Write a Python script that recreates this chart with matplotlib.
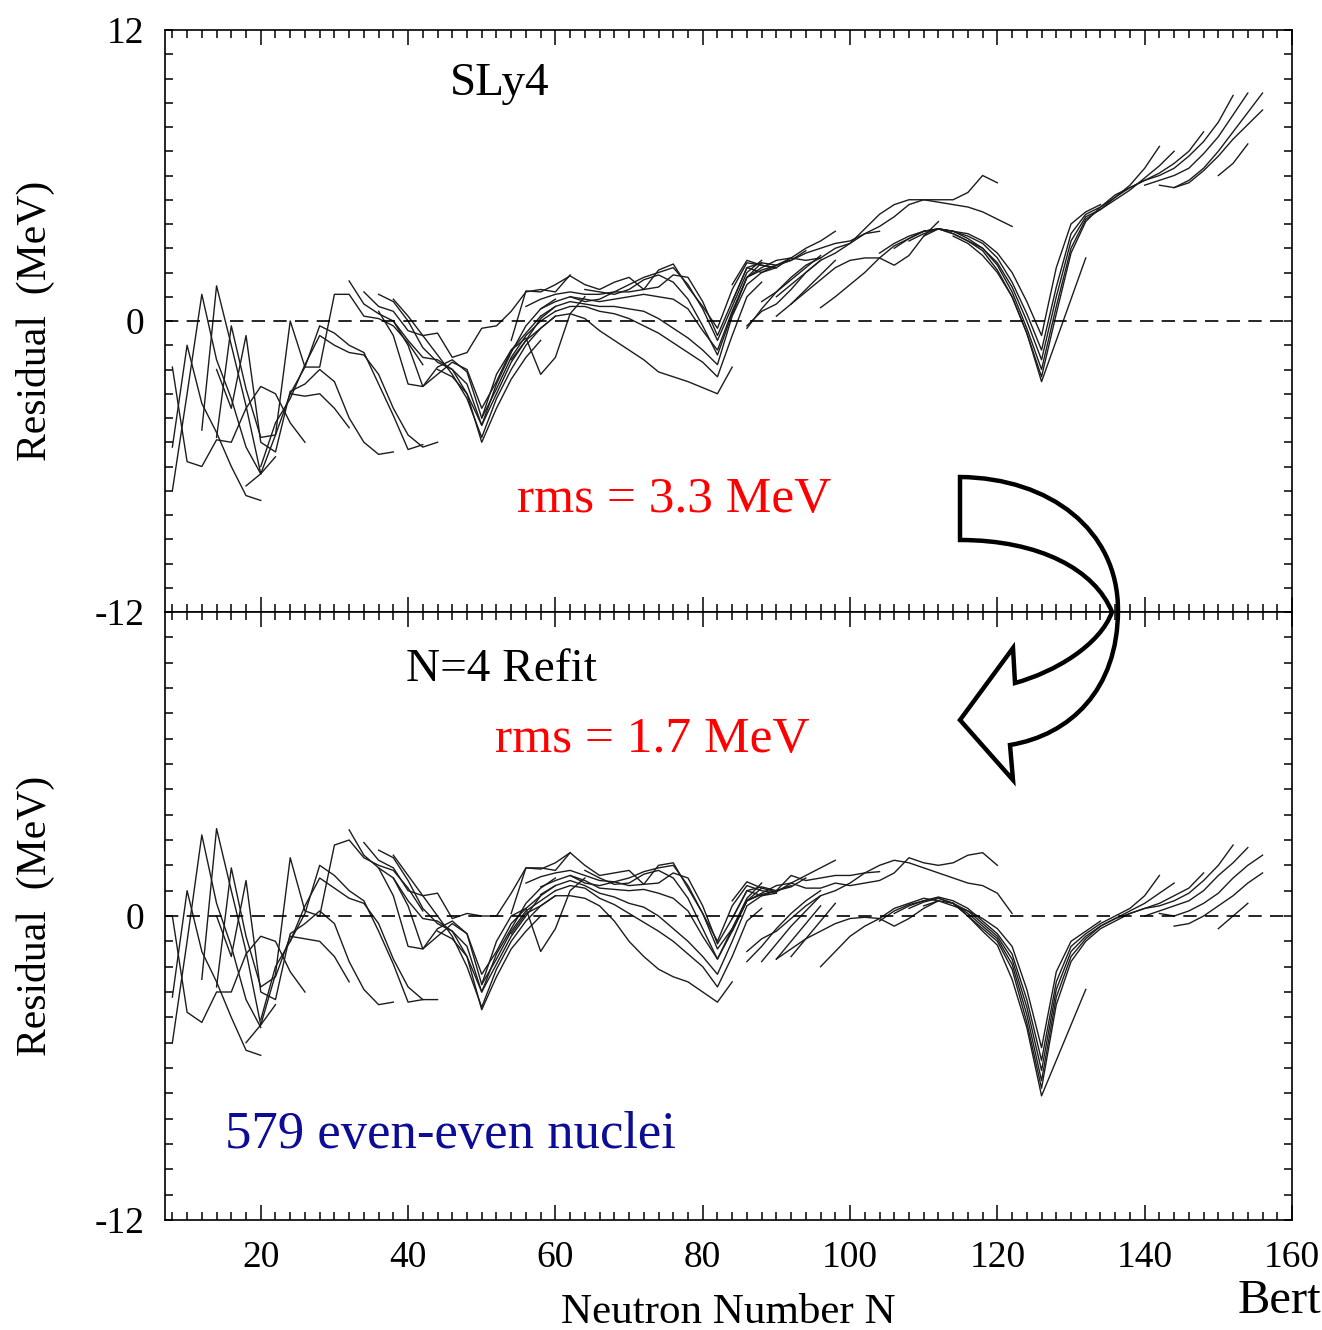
import matplotlib
matplotlib.use("Agg")
import matplotlib.pyplot as plt
from matplotlib.path import Path
from matplotlib.patches import PathPatch
from matplotlib.ticker import MultipleLocator

# isotopic chains: (first N, residual in MeV at N, N+2, N+4, ...)
# --- SLy4 (top panel) ---
sly4_light = [
    (8, [-7.0, -3.0, 1.1, -1.6, -3.2, -5.2, -6.3]),
    (8, [-5.2, -1.0, -3.4, -4.6, -6.0, -7.2, -7.4]),
    (8, [-1.9, -5.8, -6.0, -4.9, -5.0, -3.6, -2.7, -3.0, -4.2, -5.0]),
    (12, [-4.5, 1.45, -1.0, -3.5, -6.3, -5.6]),
    (14, [-4.8, -0.2, -2.8, -4.8, -4.7, -3.0, -3.1, -3.0, -3.6, -4.4]),
    (14, [-2.0, -3.6, -0.6, -5.0, -5.4, -2.9, -2.6, -2.0, -2.5, -4.0, -5.0, -5.5, -5.4]),
    (18, [-6.8, -6.3, -4.7, 0.0, -1.9, -1.9, 1.1, 1.1, 0.2, 0.1, -0.2, -0.9, -1.8]),
    (20, [-6.0, -4.2, -3.2, -1.8, -0.6, -1.0, -1.3, -1.4, -2.2, -3.6, -4.7, -5.2, -5.0]),
    (24, [-3.0, -1.9, -0.2, -0.5, -1.0, -1.3, -2.6, -3.9, -5.3, -5.1]),
]
sly4_mid = [
    (32, [1.65, 0.7, 0.3, 0.0, -0.8, -1.5, -1.6, -2.0, -3.0, -4.3, -2.6, -1.3, -0.2, 0.5, 0.9]),
    (34, [1.2, 0.6, 0.4, -0.4, -0.6, -0.5, -1.5, -1.3, -0.3, -0.2, 0.4, 1.2, 1.3, 1.2, 1.9]),
    (36, [1.1, 0.8, 0.0, -1.1, -1.7, -2.0, -2.6, -4.3, -3.0, -1.7, -0.8, 0.1, 0.6]),
    (36, [0.4, -0.6, -2.6, -2.7, -1.9, -1.6, -2.1, -4.0, -2.8, -1.5, -0.6, 0.0, 0.4]),
    (38, [0.9, 0.2, -0.6, -1.4, -2.2, -3.2, -4.8, -3.2, -2.0, -1.0, -0.3, 0.2]),
    (38, [0.0, -1.0, -2.7, -2.2, -1.7, -2.0, -3.6, -2.5, -1.2, -0.5, 0.2]),
    (44, [-2.0, -2.3, -3.0, -5.0, -3.6, -2.4, -1.5, -0.8]),
    (50, [-4.0, -2.2, -1.2, -0.7, -2.2, -1.5, 0.3, 1.0]),
]
sly4_n82 = [
    (54, [-0.8, 1.24, 1.2, 1.5, 1.86, 1.5, 1.3, 1.6, 1.8, 1.3, 2.1, 2.35, 1.4, 0.6, -0.3, 1.3, 2.4, 2.3, 2.2]),
    (56, [0.6, 0.9, 1.1, 1.2, 1.1, 1.1, 1.2, 1.2, 1.3, 1.4, 1.9, 1.8, 0.8, -0.6, 0.8, 2.2, 2.4, 2.3, 2.5, 2.9]),
    (58, [0.5, 0.8, 1.0, 0.9, 0.8, 0.9, 1.0, 1.1, 1.0, 0.9, 0.5, -0.4, -1.2, 0.4, 1.8, 2.1, 2.3, 2.6]),
    (58, [0.2, 0.6, 0.8, 0.7, 0.6, 0.6, 0.5, 0.4, 0.1, -0.3, -0.7, -1.2, -1.8, 0.2, 1.5, 2.0, 2.2]),
    (60, [0.4, 0.6, 0.6, 0.4, 0.3, 0.1, -0.2, -0.5, -0.9, -1.3, -1.7, -2.3, -0.6, 1.0, 1.6]),
    (54, [-1.6, -0.8, -0.3, 0.2, 0.3, 0.1, -0.4, -0.8, -1.2, -1.6, -2.1, -2.3, -2.5, -2.75, -3.0, -1.9]),
    (62, [1.0, 0.8, 0.9, 1.2, 1.5, 1.8, 2.0, 2.2, 1.5, 0.5, -0.8, 0.6, 2.0, 2.5]),
    (64, [1.3, 1.2, 1.1, 1.3, 1.7, 1.9, 1.6, 0.9, -0.2, -1.4, 0.3, 1.8, 2.4]),
]
sly4_rare = [
    (84, [1.5, 2.5, 2.3, 2.2, 2.6, 3.0, 3.3, 3.7]),
    (84, [0.8, 2.2, 2.0, 2.3, 2.5, 2.8, 3.0, 3.2, 3.3, 3.6, 3.7]),
    (84, [0.3, 1.8, 2.2, 2.5, 2.6, 2.5, 2.6, 3.0, 3.2, 3.6, 3.9, 4.3, 4.8, 5.0, 5.0, 5.0, 5.3, 6.0, 5.7]),
    (86, [-0.2, 0.4, 0.7, 1.3, 2.0, 2.5, 2.8, 3.2, 3.8, 4.4, 4.8, 5.0, 5.0, 4.9, 4.8, 4.7, 4.5, 4.2, 3.9]),
    (90, [0.2, 0.7, 1.2, 1.7, 2.2, 2.5, 2.6, 2.6, 2.3, 2.7, 3.5, 4.1]),
    (86, [-0.3, 0.5, 1.2, 1.8, 2.3, 2.6]),
    (88, [0.8, 1.2, 1.7, 2.2, 2.7]),
    (90, [1.0, 1.5, 2.0, 2.5]),
    (92, [0.7, 1.3, 1.9, 2.5]),
]
sly4_heavy = [
    (96, [0.55, 1.0, 1.5, 2.0, 2.6, 3.1, 3.4, 3.7, 3.8, 3.7, 3.6, 3.3, 2.8, 2.0, 0.8, -0.6, 2.2, 4.0, 4.5, 4.8]),
    (104, [2.8, 3.2, 3.5, 3.7, 3.8, 3.7, 3.5, 3.2, 2.6, 1.6, 0.3, -1.2, 1.4, 3.6, 4.4, 4.7, 5.1, 5.6, 6.3, 7.2]),
    (106, [3.0, 3.4, 3.7, 3.8, 3.7, 3.4, 3.0, 2.4, 1.4, 0.0, -1.6, 1.0, 3.3, 4.3, 4.6, 5.0, 5.4, 5.9, 6.4, 7.0]),
    (108, [3.3, 3.6, 3.8, 3.6, 3.3, 3.0, 2.3, 1.2, -0.3, -2.0, 0.6, 3.0, 4.2, 4.6, 5.1, 5.5, 5.8, 6.1, 6.5, 7.0, 7.8]),
    (110, [3.5, 3.8, 3.6, 3.3, 2.9, 2.1, 1.0, -0.5, -2.3, 0.3, 2.8, 4.1, 4.7, 5.2, 5.5, 5.8, 6.0, 6.3, 6.8, 7.4, 8.2, 9.3]),
    (114, [3.5, 3.2, 2.7, 2.0, 1.0, -0.5, -2.5, -0.8, 0.9, 2.6]),
    (140, [5.6, 5.8, 6.0, 6.3, 6.9, 7.6, 8.5, 9.4]),
    (142, [5.6, 5.5, 5.8, 6.3, 7.0, 7.8, 8.6, 9.4]),
    (144, [5.5, 5.7, 6.2, 6.8, 7.5, 8.1, 8.7]),
    (150, [6.0, 6.5, 7.3]),
]

# --- N=4 refit (bottom panel) ---
refit_light = [
    (8, [-5.0, -1.0, 3.2, 0.5, -1.2, -3.3, -4.4]),
    (8, [-3.2, 1.0, -1.4, -2.6, -4.0, -5.3, -5.5]),
    (8, [0.0, -3.8, -4.2, -3.0, -3.0, -1.5, -0.8, -1.0, -2.2, -3.0]),
    (12, [-2.5, 3.45, 1.0, -1.4, -4.3, -3.5]),
    (14, [-2.8, 1.9, -0.8, -2.8, -2.4, -0.8, -0.9, -1.0, -1.6, -2.6]),
    (14, [0.0, -1.6, 1.4, -3.0, -3.3, -0.7, -0.3, 0.2, -0.3, -1.8, -2.9, -3.5, -3.4]),
    (18, [-5.0, -4.3, -2.3, 2.3, 0.2, 0.0, 2.8, 3.0, 2.3, 2.0, 1.8, 1.1, 0.2]),
    (20, [-4.1, -2.0, -1.0, 0.4, 1.5, 1.1, 0.7, 0.5, -0.3, -1.7, -2.8, -3.3, -3.3]),
    (24, [-1.0, 0.1, 2.0, 1.6, 1.0, 0.6, -0.6, -1.9, -3.4, -3.3]),
]
refit_mid = [
    (32, [3.4, 2.4, 1.9, 1.5, 0.6, -0.1, -0.2, -0.6, -1.6, -3.0, -1.5, -0.5, 0.5, 1.1, 1.5]),
    (34, [2.9, 2.2, 1.9, 1.0, 0.8, 0.9, -0.1, 0.1, 0.0, 0.0, 0.9, 1.9, 1.9, 1.8, 2.5]),
    (36, [2.6, 2.3, 1.4, 0.3, -0.3, -0.6, -1.2, -3.0, -1.9, -0.8, 0.0, 0.8, 1.2]),
    (36, [1.9, 0.8, -1.2, -1.3, -0.5, -0.2, -0.7, -2.7, -1.7, -0.6, 0.2, 0.6, 1.0]),
    (38, [2.4, 1.6, 0.8, 0.0, -0.8, -2.0, -3.6, -2.1, -1.0, -0.2, 0.4, 0.8]),
    (38, [1.5, 0.4, -1.3, -0.8, -0.3, -0.7, -2.3, -1.4, -0.3, 0.3, 0.8]),
    (44, [-0.6, -0.9, -1.6, -3.7, -2.4, -1.3, -0.6, 0.0]),
    (50, [-2.7, -1.0, 0.0, 0.3, -1.4, -0.5, 1.0, 1.5]),
]
refit_n82 = [
    (54, [0.1, 1.9, 1.85, 2.1, 2.5, 2.0, 1.6, 1.7, 1.8, 1.25, 2.0, 2.1, 1.1, 0.1, -1.0, 0.4, 1.2, 1.0, 0.9]),
    (56, [1.3, 1.55, 1.7, 1.8, 1.6, 1.4, 1.35, 1.2, 1.25, 1.3, 1.7, 1.5, 0.4, -1.1, -0.1, 1.0, 1.15, 1.0, 1.15, 1.5]),
    (58, [1.15, 1.4, 1.6, 1.4, 1.1, 1.05, 1.0, 1.05, 0.9, 0.7, 0.2, -0.8, -1.7, -0.5, 0.6, 0.85, 1.0, 1.2]),
    (58, [0.85, 1.2, 1.4, 1.2, 0.9, 0.75, 0.5, 0.35, 0.0, -0.5, -1.0, -1.6, -2.3, -1.0, 0.4, 0.8, 0.9]),
    (60, [1.0, 1.2, 1.1, 0.7, 0.45, 0.1, -0.25, -0.6, -1.0, -1.5, -2.0, -2.8, -1.6, -0.2, 0.3]),
    (54, [-0.7, 0.1, 0.4, 0.8, 0.8, 0.7, 0.4, -0.2, -1.0, -1.6, -2.1, -2.4, -2.6, -3.0, -3.4, -2.6]),
    (62, [1.6, 1.3, 1.2, 1.35, 1.5, 1.75, 1.9, 2.0, 1.2, 0.1, -1.3, -0.5, 0.7, 1.3]),
    (64, [1.8, 1.5, 1.25, 1.3, 1.65, 1.8, 1.5, 0.7, -0.5, -1.7, -0.6, 0.6, 1.1]),
]
refit_rare = [
    (84, [0.6, 1.35, 1.1, 0.95, 1.3, 1.6, 1.9, 2.2]),
    (84, [-0.1, 1.0, 0.8, 1.0, 1.6, 1.4, 1.5, 1.6, 1.6, 1.7, 1.75]),
    (84, [-0.6, 0.6, 0.9, 1.2, 1.3, 1.1, 1.1, 1.3, 1.2, 1.3, 1.4, 1.7, 2.3, 2.1, 2.0, 2.1, 2.4, 2.5, 2.0]),
    (86, [-1.4, -0.9, -0.6, -0.1, 0.4, 0.8, 1.0, 1.3, 1.7, 2.0, 2.2, 2.1, 1.9, 1.7, 1.5, 1.3, 1.2, 0.9, 0.1]),
    (90, [-1.7, -1.3, -0.9, -0.6, -0.3, -0.1, -0.05, -0.1, -0.4, -0.1, 0.3, 0.6]),
    (86, [-1.8, -1.2, -0.5, 0.1, 0.6, 1.0]),
    (88, [-1.8, -1.1, -0.4, 0.2, 0.8]),
    (90, [-1.7, -1.0, -0.3, 0.4]),
    (92, [-1.6, -0.9, -0.2, 0.5]),
]
refit_heavy = [
    (96, [-2.0, -1.4, -0.8, -0.4, -0.1, 0.3, 0.5, 0.7, 0.6, 0.4, 0.2, -0.1, -0.5, -1.2, -2.9, -5.2, -2.2, -1.0, -0.6, -0.2]),
    (104, [-0.2, 0.2, 0.45, 0.6, 0.75, 0.6, 0.3, -0.2, -0.7, -1.5, -3.3, -5.7, -2.6, -1.2, -0.7, -0.3, 0.0, 0.3, 0.8, 1.6]),
    (106, [0.1, 0.4, 0.6, 0.7, 0.5, 0.2, -0.3, -0.8, -1.7, -3.6, -6.1, -2.9, -1.4, -0.8, -0.4, -0.1, 0.2, 0.5, 0.9, 1.3]),
    (108, [0.3, 0.55, 0.7, 0.5, 0.1, -0.4, -0.9, -1.9, -3.9, -6.5, -3.2, -1.6, -0.9, -0.4, -0.1, 0.1, 0.3, 0.5, 0.8, 1.1, 1.7]),
    (110, [0.4, 0.6, 0.5, 0.0, -0.5, -1.0, -2.1, -4.2, -6.8, -3.5, -1.8, -1.0, -0.5, -0.2, 0.1, 0.3, 0.4, 0.6, 0.9, 1.4, 2.0, 2.8]),
    (114, [0.5, 0.0, -0.6, -1.15, -2.5, -4.4, -7.1, -5.7, -4.3, -2.9]),
    (140, [0.0, 0.2, 0.4, 0.6, 1.0, 1.6, 2.1, 2.7]),
    (142, [0.1, 0.0, 0.2, 0.5, 0.9, 1.5, 2.0, 2.4]),
    (144, [-0.4, -0.3, 0.0, 0.4, 0.8, 1.3, 1.7]),
    (150, [-0.5, 0.0, 0.5]),
]

W, H = 1322, 1330
plt.rcParams["font.family"] = "Liberation Serif"


def px(x, y):
    # figure pixel (top-left origin) -> figure fraction
    return x / W, 1 - y / H


def draw_chains(ax, groups):
    for chains in groups:
        for n0, res in chains:
            n = list(range(n0, n0 + 2 * len(res), 2))
            ax.plot(n, res, color="#1c1c1c", lw=1.0)


def style_axes(ax, labels):
    ax.set_xlim(7, 160)
    ax.set_ylim(-12, 12)
    ax.axhline(0, color="black", lw=1.2, ls=(0, (8, 5)))
    ax.xaxis.set_major_locator(MultipleLocator(20))
    ax.xaxis.set_minor_locator(MultipleLocator(2))
    ax.set_yticks([-12, 0, 12], labels=labels)
    ax.yaxis.set_minor_locator(MultipleLocator(1))
    ax.tick_params(which="both", direction="in", top=True, right=True, width=1.1,
                   labelsize=27, pad=15)
    ax.tick_params(which="major", axis="x", length=11)
    ax.tick_params(which="minor", axis="x", length=6)
    ax.tick_params(which="both", axis="y", length=6)
    for s in ax.spines.values():
        s.set_linewidth(1.2)
    ax.set_ylabel("Residual  (MeV)", fontsize=30, labelpad=28)


fig = plt.figure(figsize=(W / 100, H / 100), dpi=100)
ax1 = fig.add_axes([165 / W, 1 - 612 / H, 1127 / W, 582 / H])
ax2 = fig.add_axes([165 / W, 1 - 1220 / H, 1127 / W, 608 / H])

draw_chains(ax1, [sly4_light, sly4_mid, sly4_n82, sly4_rare, sly4_heavy])
draw_chains(ax2, [refit_light, refit_mid, refit_n82, refit_rare, refit_heavy])

style_axes(ax1, ["-12", "0", "12"])
style_axes(ax2, ["-12", "0", ""])
ax1.tick_params(axis="x", labelbottom=False)
ax2.set_xlabel("Neutron Number N", fontsize=31, labelpad=13)

# annotations
fig.text(*px(500, 84), "SLy4", fontsize=34, ha="center", va="center")
fig.text(*px(501, 670), "N=4 Refit", fontsize=34, ha="center", va="center")
fig.text(*px(674, 500), "rms = 3.3 MeV", fontsize=37, color="red", ha="center", va="center")
fig.text(*px(652, 740), "rms = 1.7 MeV", fontsize=37, color="red", ha="center", va="center")
fig.text(*px(450, 1135), "579 even-even nuclei", fontsize=38, color="#0c0c96", ha="center", va="center")
fig.text(*px(1238, 1313), "Bert", fontsize=35, ha="left", va="baseline")

# curved block arrow from the top panel to the bottom one
verts = [(960, 477), (1050, 478), (1118, 530), (1118, 610),
         (1118, 690), (1070, 735), (1010, 745),
         (1013, 780), (960, 720), (1013, 648), (1015, 683),
         (1055, 672), (1100, 645), (1112, 612),
         (1095, 570), (1040, 540), (960, 540),
         (960, 477)]
codes = [Path.MOVETO, Path.CURVE4, Path.CURVE4, Path.CURVE4,
         Path.CURVE4, Path.CURVE4, Path.CURVE4,
         Path.LINETO, Path.LINETO, Path.LINETO, Path.LINETO,
         Path.CURVE4, Path.CURVE4, Path.CURVE4,
         Path.CURVE4, Path.CURVE4, Path.CURVE4,
         Path.CLOSEPOLY]
arrow = PathPatch(Path([px(x, y) for x, y in verts], codes), transform=fig.transFigure,
                  facecolor="none", edgecolor="black", lw=3.2, joinstyle="miter", zorder=10)
fig.add_artist(arrow)

fig.savefig("out.png", dpi=100)
